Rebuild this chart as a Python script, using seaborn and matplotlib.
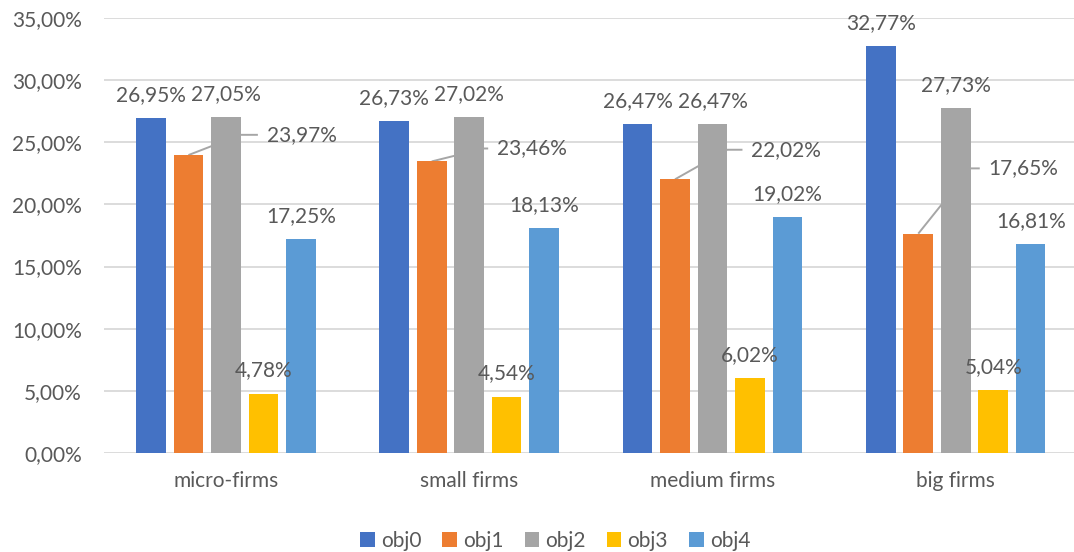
import matplotlib
matplotlib.use("Agg")
import matplotlib.pyplot as plt
import seaborn as sns
import pandas as pd
from matplotlib.patches import Patch

categories = ["micro-firms", "small firms", "medium firms", "big firms"]
series = ["obj0", "obj1", "obj2", "obj3", "obj4"]
obj0 = [26.95, 26.73, 26.47, 32.77]
obj1 = [23.97, 23.46, 22.02, 17.65]
obj2 = [27.05, 27.02, 26.47, 27.73]
obj3 = [4.78, 4.54, 6.02, 5.04]
obj4 = [17.25, 18.13, 19.02, 16.81]
yticks = [0, 5, 10, 15, 20, 25, 30, 35]

colors = ["#4472C4", "#ED7D31", "#A5A5A5", "#FFC000", "#5B9BD5"]
text_color = "#595959"
# obj1 labels are placed to the right of the obj2 bar (pixel offset from group centre, y in data units)
obj1_label_dx = [41, 28, 39, 33]
obj1_label_y = [25.6, 24.5, 24.4, 22.9]

rows = []
for name, vals in zip(series, [obj0, obj1, obj2, obj3, obj4]):
    for c, v in zip(categories, vals):
        rows.append({"category": c, "obj": name, "value": v})
df = pd.DataFrame(rows)

sns.set_theme(style="white")
plt.rcParams["font.family"] = ["Lato", "DejaVu Sans"]
FS = 15

W, H = 1074, 552
fig = plt.figure(figsize=(W / 100, H / 100), dpi=100)
ax = fig.add_axes([104 / W, (H - 453) / H, (W - 104) / W, (453 - 18) / H])

sns.barplot(data=df, x="category", y="value", hue="obj", palette=colors,
            width=0.77, gap=0.21, saturation=1, ax=ax, legend=False,
            linewidth=0, zorder=3)

ax.set_xlim(-0.501, 3.486)
ax.set_ylim(0, 35)
ax.set_yticks(yticks)
ax.set_yticklabels([f"{t:.2f}".replace(".", ",") + "%" for t in yticks])
ax.yaxis.grid(True, color="#D9D9D9", linewidth=1.3, zorder=0)
ax.set_axisbelow(True)
for s in ax.spines.values():
    s.set_visible(False)
ax.tick_params(axis="y", length=0, pad=16, labelsize=FS, labelcolor=text_color)
ax.tick_params(axis="x", length=0, pad=13, labelsize=FS, labelcolor=text_color)
ax.set_xlabel("")
ax.set_ylabel("")

def fmt(v):
    return f"{v:.2f}".replace(".", ",") + "%"

fig.canvas.draw()
to_disp = ax.transData.transform
to_data = ax.transData.inverted().transform

conts = ax.containers
for si, cont in enumerate(conts):
    for ci, bar in enumerate(cont):
        v = bar.get_height()
        cx = bar.get_x() + bar.get_width() / 2
        if si == 1:
            gray = conts[2][ci]
            gx_right = gray.get_x() + gray.get_width()
            gcx = gray.get_x() + gray.get_width() / 2
            gc_disp = to_disp((gcx, 0))[0]
            ly = obj1_label_y[ci]
            ly_disp = to_disp((0, ly))[1]
            text_left_disp = gc_disp + obj1_label_dx[ci]
            tx, _ = to_data((text_left_disp, ly_disp))
            end_x, _ = to_data((text_left_disp - 9, ly_disp))
            ax.plot([cx, gx_right, end_x], [v, ly, ly], color="#A6A6A6",
                    linewidth=1.4, zorder=2, solid_capstyle="butt")
            ax.text(tx, ly, fmt(v), ha="left", va="center", fontsize=FS,
                    color=text_color, zorder=5)
        else:
            ax.annotate(fmt(v), xy=(cx, v), xytext=(0, 23), textcoords="offset pixels",
                        ha="center", va="center", fontsize=FS, color=text_color,
                        zorder=5)

handles = [Patch(facecolor=c, edgecolor="none", label=s) for c, s in zip(colors, series)]
fig.legend(handles=handles, loc="center", bbox_to_anchor=(0.517, 11 / H), ncol=5,
           frameon=False, fontsize=FS, labelcolor=text_color, handlelength=0.7,
           handleheight=0.7, handletextpad=0.3, columnspacing=1.0)

fig.savefig("out.png", dpi=100, facecolor="white")
